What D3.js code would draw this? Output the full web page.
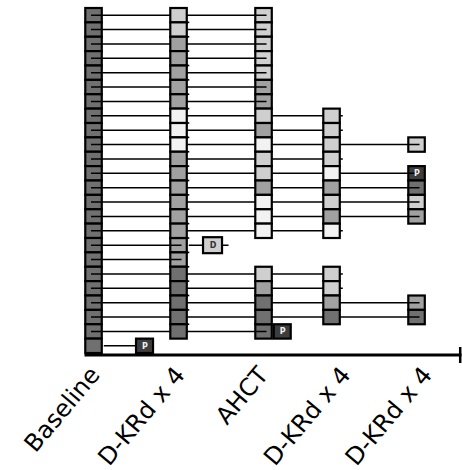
<!DOCTYPE html>
<html>
<head>
<meta charset="utf-8">
<script src="https://cdn.jsdelivr.net/npm/d3@7"></script>
<style>
  body { margin: 0; background: #fff; }
  svg { display: block; }
</style>
</head>
<body>
<svg id="chart" width="462" height="470"></svg>
<script>
// Treatment timepoints shown along the bottom axis
const timepoints = ["Baseline", "D-KRd x 4", "AHCT", "D-KRd x 4", "D-KRd x 4"];
// Axis positions of the timepoint labels
const labelTicks = [0, 1, 1.98, 2.95, 3.91];
// Axis positions at which each assessment column is drawn
const sampleTimes = [0, 1, 2, 2.8, 3.8];

// Response level for each patient (row) at each assessment:
// 0 = deepest response ... 3 = disease present, 4 = progression, null = not assessed
const baseline = [3, 3, 3, 3, 3, 3, 3, 3, 3, 3, 3, 3, 3, 3, 3, 3, 3, 3, 3, 3, 3, 3, 3, 3];
const afterInduction = [1, 1, 2, 2, 2, 2, 2, 0, 0, 0, 2, 2, 2, 2, 2, 2, 2, 2, 3, 3, 3, 3, 3, null];
const afterAHCT = [1, 1, 1, 1, 1, 2, 2, 1, 2, 0, 1, 1, 2, 0, 0, 0, null, null, 1, 2, 3, 3, 3, null];
const afterConsolidation = [null, null, null, null, null, null, null, 1, 1, 1, 1, 0, 2, 1, 2, 0, null, null, 1, 1, 2, 3, null, null];
const afterMaintenance = [null, null, null, null, null, null, null, null, null, 1, null, 4, 3, 1, 2, null, null, null, null, null, 2, 3, null, null];

// Events off the assessment grid: P = progression, D = discontinuation
const eventPatients = [16, 22, 23];
const eventTimes = [1.4, 2.22, 0.6];
const eventLabels = ["D", "P", "P"];

const columns = [baseline, afterInduction, afterAHCT, afterConsolidation, afterMaintenance];
const shades = ["#f2f2f2", "#cfcfcf", "#a1a1a1", "#707070", "#3d3d3d"];
const nPatients = baseline.length;

const svg = d3.select("#chart");

const x = d3.scaleLinear().domain([-0.112, 4.323]).range([84, 461]);
const y = d3.scaleBand().domain(d3.range(nPatients)).range([8, 353]).paddingInner(0);
const cellW = 16.5;
const rowH = y.bandwidth();

// Collect every assessed cell with its patient and column
const cells = [];
const rowInfo = [];
for (let p = 0; p < nPatients; p++) {
  const present = [];
  columns.forEach((col, c) => { if (col[p] != null) present.push(c); });
  rowInfo.push({ p, first: present[0], last: present[present.length - 1], count: present.length });
  present.forEach(c => {
    const first = c === present[0];
    const last = c === present[present.length - 1];
    // The line runs on top of the first and final cell of a row, under the others
    const under = first || (last && c !== 3);
    cells.push({ p, c, v: columns[c][p], under });
  });
}

const gUnder = svg.append("g");
const gLines = svg.append("g");
const gOver = svg.append("g");
const gEvents = svg.append("g");

function drawCells(g, data) {
  g.selectAll("rect")
    .data(data)
    .join("rect")
    .attr("x", d => x(sampleTimes[d.c]) - cellW / 2)
    .attr("y", d => y(d.p))
    .attr("width", cellW)
    .attr("height", rowH)
    .attr("fill", d => shades[d.v])
    .attr("stroke", "#000")
    .attr("stroke-width", 2.2);
}
drawCells(gUnder, cells.filter(d => d.under));
drawCells(gOver, cells.filter(d => !d.under));

// Separator ticks on the right edge of the induction column
gOver.selectAll("line.sep")
  .data(cells.filter(d => d.c === 1 && d.p > 0))
  .join("line")
  .attr("class", "sep")
  .attr("x1", d => x(sampleTimes[1]) + cellW / 2)
  .attr("x2", d => x(sampleTimes[1]) + cellW / 2 + 2.5)
  .attr("y1", d => y(d.p))
  .attr("y2", d => y(d.p))
  .attr("stroke", "#000")
  .attr("stroke-width", 1.6);

// Follow-up line for each patient from baseline to the last assessment
gLines.selectAll("line")
  .data(rowInfo.filter(r => r.count > 1))
  .join("line")
  .attr("x1", r => x(sampleTimes[r.first]) - 2.5)
  .attr("x2", r => r.last === 3
    ? x(sampleTimes[r.last]) + cellW / 2 + 3
    : x(sampleTimes[r.last]) + 3)
  .attr("y1", r => y(r.p) + rowH / 2)
  .attr("y2", r => y(r.p) + rowH / 2)
  .attr("stroke", "#000")
  .attr("stroke-width", 1.5);

// Off-grid events with their connecting line
const events = eventPatients.map((p, i) => ({ p, t: eventTimes[i], label: eventLabels[i] }));
const evG = gEvents.selectAll("g")
  .data(events)
  .join("g");
evG.append("line")
  .attr("x1", d => x(sampleTimes[rowInfo[d.p].last]) + cellW / 2 + 2)
  .attr("x2", d => x(d.t) + (d.label === "D" ? 16 : 0))
  .attr("y1", d => y(d.p) + rowH / 2)
  .attr("y2", d => y(d.p) + rowH / 2)
  .attr("stroke", "#000")
  .attr("stroke-width", 1.5);
evG.append("rect")
  .attr("x", d => x(d.t) - (d.label === "D" ? 9.5 : 8.5))
  .attr("y", d => y(d.p) + (d.label === "D" ? -0.8 : 0))
  .attr("width", d => d.label === "D" ? 19 : 17)
  .attr("height", d => d.label === "D" ? rowH + 1.6 : rowH)
  .attr("fill", d => d.label === "D" ? shades[1] : shades[4])
  .attr("stroke", "#000")
  .attr("stroke-width", 2.2);
evG.append("text")
  .attr("x", d => x(d.t) + 0.5)
  .attr("y", d => y(d.p) + rowH / 2)
  .attr("dy", "0.36em")
  .attr("text-anchor", "middle")
  .attr("font-family", "DejaVu Sans, sans-serif")
  .attr("font-weight", "bold")
  .attr("font-size", 8)
  .attr("fill", d => d.label === "D" ? "#333" : "#eee")
  .text(d => d.label);

// Progression marked inside an assessment cell
gEvents.selectAll("text.cellmark")
  .data(cells.filter(d => d.v === 4))
  .join("text")
  .attr("class", "cellmark")
  .attr("x", d => x(sampleTimes[d.c]) + 0.5)
  .attr("y", d => y(d.p) + rowH / 2)
  .attr("dy", "0.36em")
  .attr("text-anchor", "middle")
  .attr("font-family", "DejaVu Sans, sans-serif")
  .attr("font-weight", "bold")
  .attr("font-size", 8)
  .attr("fill", "#eee")
  .text("P");

// Time axis
const axisY = 354.5;
const axis = d3.axisBottom(x)
  .tickValues(labelTicks)
  .tickFormat((d, i) => timepoints[i])
  .tickSize(0)
  .tickSizeOuter(0);
const gAxis = svg.append("g")
  .attr("transform", `translate(0,${axisY})`)
  .call(axis);
gAxis.select(".domain").attr("stroke", "#000").attr("stroke-width", 3);
gAxis.selectAll(".tick text")
  .attr("x", 0).attr("y", 0).attr("dy", 0)
  .attr("text-anchor", "end")
  .attr("transform", "translate(7,21) rotate(-50)")
  .attr("font-family", "DejaVu Sans, sans-serif")
  .attr("font-size", 24)
  .attr("fill", "#000");

// End marker of the axis
svg.append("line")
  .attr("x1", x.range()[1] - 0.8).attr("x2", x.range()[1] - 0.8)
  .attr("y1", axisY - 7.5).attr("y2", axisY + 8.5)
  .attr("stroke", "#000")
  .attr("stroke-width", 2.5);
</script>
</body>
</html>
